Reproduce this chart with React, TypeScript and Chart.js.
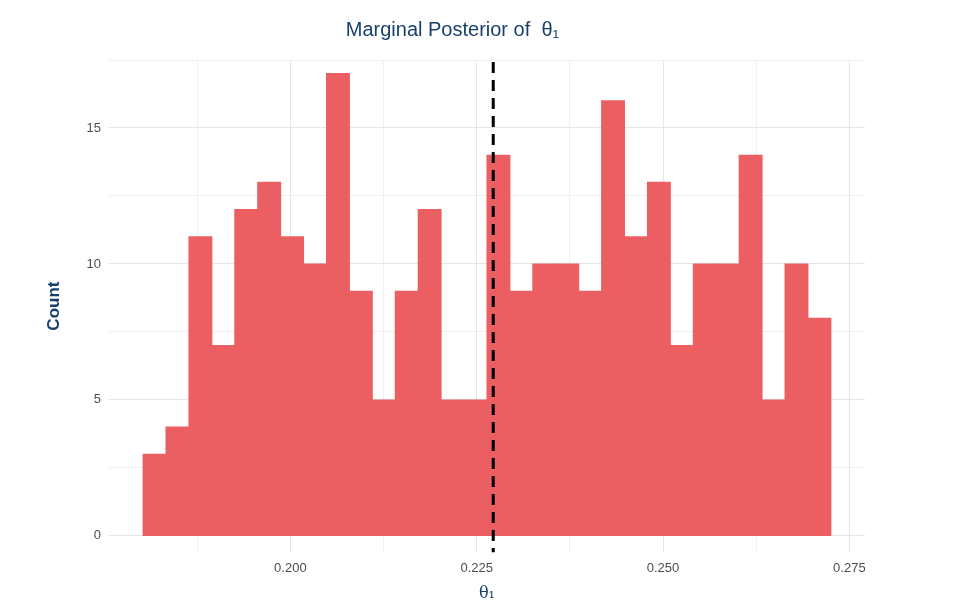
import { useEffect, useRef } from "react";
import { Chart, registerables } from "chart.js";

Chart.register(...registerables);

const binStart = 0.18024;
const binWidth = 0.003076;
const counts = [3, 4, 11, 7, 12, 13, 11, 10, 17, 9, 5, 9, 12, 5, 5, 14, 9, 10, 10, 9, 16, 11, 13, 7, 10, 10, 14, 5, 10, 8];
const xTicks = [0.1875, 0.2, 0.2125, 0.225, 0.2375, 0.25, 0.2625, 0.275];
const xLabels = [0.2, 0.225, 0.25, 0.275];
const yTicks = [0, 2.5, 5, 7.5, 10, 12.5, 15, 17.5];
const meanLine = 0.22722;

const navy = "#17406D";

export default function App() {
  const ref = useRef<HTMLCanvasElement | null>(null);

  useEffect(() => {
    document.body.style.margin = "0";
    const el = ref.current;
    if (!el) return;

    const dashPlugin = {
      id: "meanLine",
      afterDatasetsDraw: (c: any) => {
        const { ctx, chartArea, scales } = c;
        const px = scales.x.getPixelForValue(meanLine);
        ctx.save();
        ctx.beginPath();
        ctx.setLineDash([11, 7]);
        ctx.strokeStyle = "#000";
        ctx.lineWidth = 3;
        ctx.moveTo(px, chartArea.top + 2);
        ctx.lineTo(px, chartArea.bottom);
        ctx.stroke();
        ctx.restore();
      },
    };

    const c = new Chart(el, {
      type: "bar",
      data: {
        datasets: [
          {
            data: counts.map((y, i) => ({ x: binStart + binWidth * (i + 0.5), y })),
            backgroundColor: "#EB5F63",
            borderWidth: 0,
            barPercentage: 1,
            categoryPercentage: 1,
            inflateAmount: 0.5,
          },
        ],
      },
      options: {
        responsive: false,
        animation: false,
        layout: { padding: { left: 40, right: 96, top: 0, bottom: 6 } },
        plugins: {
          legend: { display: false },
          tooltip: { enabled: false },
          title: {
            display: true,
            text: "Marginal Posterior of  θ₁",
            color: navy,
            font: { family: "Liberation Sans", size: 20, weight: "normal" },
            padding: { top: 18, bottom: 18 },
          },
        },
        scales: {
          x: {
            type: "linear",
            offset: false,
            min: 0.17565,
            max: 0.2771,
            afterBuildTicks: (s: any) => {
              s.ticks = xTicks.map((v) => ({ value: v }));
            },
            grid: {
              offset: false,
              color: (ctx: any) =>
                xLabels.some((v) => Math.abs(v - ctx.tick?.value) < 1e-6) ? "#e6e6e6" : "#f0f0f0",
              drawTicks: false,
            },
            border: { display: false },
            ticks: {
              autoSkip: false,
              maxRotation: 0,
              color: "#4d4d4d",
              font: { family: "Liberation Sans", size: 13 },
              padding: 8,
              callback: (v: any) => (xLabels.some((l) => Math.abs(l - v) < 1e-6) ? Number(v).toFixed(3) : ""),
            },
            title: {
              display: true,
              text: "θ₁",
              color: navy,
              font: { family: "DejaVu Serif", size: 16 },
              padding: { top: 0 },
            },
          },
          y: {
            min: -0.6,
            max: 17.5,
            afterBuildTicks: (s: any) => {
              s.ticks = yTicks.map((v) => ({ value: v }));
            },
            grid: {
              color: (ctx: any) => (ctx.tick && ctx.tick.value % 5 === 0 ? "#e6e6e6" : "#f0f0f0"),
              drawTicks: false,
            },
            border: { display: false },
            ticks: {
              color: "#4d4d4d",
              font: { family: "Liberation Sans", size: 13 },
              padding: 8,
              callback: (v: any) => (Number(v) % 5 === 0 ? String(v) : ""),
            },
            title: {
              display: true,
              text: "Count",
              color: navy,
              font: { family: "Liberation Sans", size: 17, weight: "bold" },
              padding: { bottom: 14 },
            },
          },
        },
      },
      plugins: [dashPlugin],
    });
    return () => c.destroy();
  }, []);

  return (
    <div style={{ width: 961, height: 613, background: "#fff" }}>
      <canvas ref={ref} width={961} height={613} style={{ width: 961, height: 613 }} />
    </div>
  );
}
